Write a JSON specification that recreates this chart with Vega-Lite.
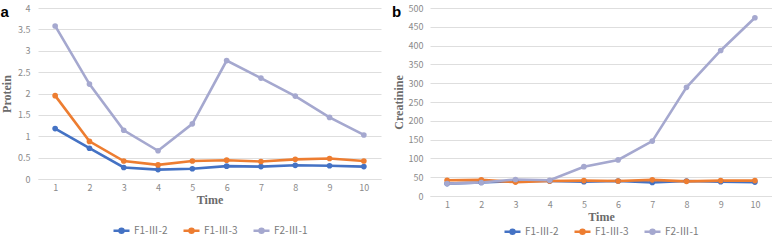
{
  "$schema": "https://vega.github.io/schema/vega-lite/v6.json",
  "padding": {"left": 0, "top": 4, "right": 0, "bottom": 0},
  "background": "white",
  "config": {
    "view": {"stroke": null},
    "axis": {"labelFont": "Noto Sans CJK SC", "labelFontSize": 9, "labelColor": "#8a8a8a", "titleFont": "Liberation Serif", "titleFontSize": 12, "titleFontWeight": "bold", "titleColor": "#6b6b6b", "gridColor": "#dedede", "ticks": false, "domain": false},
    "legend": {"labelFont": "Noto Sans CJK SC", "labelFontSize": 10, "labelColor": "#7a7a7a", "orient": "bottom", "direction": "horizontal", "title": null, "symbolType": "M-1,0H1M-0.25,0A0.25,0.25,0,1,0,0.25,0A0.25,0.25,0,1,0,-0.25,0", "symbolSize": 256, "symbolStrokeWidth": 2.5, "columnPadding": 10, "labelOffset": 3, "layout": {"bottom": {"anchor": "middle"}}},
    "title": {"font": "Liberation Sans", "fontSize": 15, "fontWeight": "bold", "color": "#000", "anchor": "start", "frame": "bounds", "offset": -16}
  },
  "datasets": {
    "protein": [
      {"t": 1, "s": "F1-Ⅲ-2", "v": 1.18}, {"t": 2, "s": "F1-Ⅲ-2", "v": 0.72}, {"t": 3, "s": "F1-Ⅲ-2", "v": 0.27}, {"t": 4, "s": "F1-Ⅲ-2", "v": 0.22}, {"t": 5, "s": "F1-Ⅲ-2", "v": 0.24}, {"t": 6, "s": "F1-Ⅲ-2", "v": 0.30}, {"t": 7, "s": "F1-Ⅲ-2", "v": 0.29}, {"t": 8, "s": "F1-Ⅲ-2", "v": 0.32}, {"t": 9, "s": "F1-Ⅲ-2", "v": 0.31}, {"t": 10, "s": "F1-Ⅲ-2", "v": 0.29},
      {"t": 1, "s": "F1-Ⅲ-3", "v": 1.95}, {"t": 2, "s": "F1-Ⅲ-3", "v": 0.88}, {"t": 3, "s": "F1-Ⅲ-3", "v": 0.42}, {"t": 4, "s": "F1-Ⅲ-3", "v": 0.33}, {"t": 5, "s": "F1-Ⅲ-3", "v": 0.42}, {"t": 6, "s": "F1-Ⅲ-3", "v": 0.44}, {"t": 7, "s": "F1-Ⅲ-3", "v": 0.41}, {"t": 8, "s": "F1-Ⅲ-3", "v": 0.46}, {"t": 9, "s": "F1-Ⅲ-3", "v": 0.48}, {"t": 10, "s": "F1-Ⅲ-3", "v": 0.42},
      {"t": 1, "s": "F2-Ⅲ-1", "v": 3.58}, {"t": 2, "s": "F2-Ⅲ-1", "v": 2.22}, {"t": 3, "s": "F2-Ⅲ-1", "v": 1.14}, {"t": 4, "s": "F2-Ⅲ-1", "v": 0.66}, {"t": 5, "s": "F2-Ⅲ-1", "v": 1.29}, {"t": 6, "s": "F2-Ⅲ-1", "v": 2.77}, {"t": 7, "s": "F2-Ⅲ-1", "v": 2.36}, {"t": 8, "s": "F2-Ⅲ-1", "v": 1.94}, {"t": 9, "s": "F2-Ⅲ-1", "v": 1.44}, {"t": 10, "s": "F2-Ⅲ-1", "v": 1.03}
    ],
    "creatinine": [
      {"t": 1, "s": "F1-Ⅲ-2", "v": 33}, {"t": 2, "s": "F1-Ⅲ-2", "v": 36}, {"t": 3, "s": "F1-Ⅲ-2", "v": 40}, {"t": 4, "s": "F1-Ⅲ-2", "v": 40}, {"t": 5, "s": "F1-Ⅲ-2", "v": 38}, {"t": 6, "s": "F1-Ⅲ-2", "v": 40}, {"t": 7, "s": "F1-Ⅲ-2", "v": 36}, {"t": 8, "s": "F1-Ⅲ-2", "v": 40}, {"t": 9, "s": "F1-Ⅲ-2", "v": 38}, {"t": 10, "s": "F1-Ⅲ-2", "v": 37},
      {"t": 1, "s": "F1-Ⅲ-3", "v": 42}, {"t": 2, "s": "F1-Ⅲ-3", "v": 43}, {"t": 3, "s": "F1-Ⅲ-3", "v": 37}, {"t": 4, "s": "F1-Ⅲ-3", "v": 40}, {"t": 5, "s": "F1-Ⅲ-3", "v": 41}, {"t": 6, "s": "F1-Ⅲ-3", "v": 40}, {"t": 7, "s": "F1-Ⅲ-3", "v": 43}, {"t": 8, "s": "F1-Ⅲ-3", "v": 39}, {"t": 9, "s": "F1-Ⅲ-3", "v": 41}, {"t": 10, "s": "F1-Ⅲ-3", "v": 41},
      {"t": 1, "s": "F2-Ⅲ-1", "v": 33}, {"t": 2, "s": "F2-Ⅲ-1", "v": 36}, {"t": 3, "s": "F2-Ⅲ-1", "v": 44}, {"t": 4, "s": "F2-Ⅲ-1", "v": 42}, {"t": 5, "s": "F2-Ⅲ-1", "v": 78}, {"t": 6, "s": "F2-Ⅲ-1", "v": 96}, {"t": 7, "s": "F2-Ⅲ-1", "v": 146}, {"t": 8, "s": "F2-Ⅲ-1", "v": 289}, {"t": 9, "s": "F2-Ⅲ-1", "v": 387}, {"t": 10, "s": "F2-Ⅲ-1", "v": 474}
    ]
  },
  "hconcat": [
    {
      "title": {"text": "a"},
      "data": {"name": "protein"},
      "width": 343,
      "height": 171,
      "mark": {"type": "line", "strokeWidth": 2.6, "point": {"filled": true, "size": 32}},
      "encoding": {
        "x": {"field": "t", "type": "ordinal", "scale": {"type": "point", "padding": 0.5}, "axis": {"labelAngle": 0, "title": "Time", "grid": false, "domain": true, "domainColor": "#dedede", "labelPadding": 4, "titlePadding": 2}},
        "y": {"field": "v", "type": "quantitative", "scale": {"domain": [0, 4]}, "axis": {"values": [0, 0.5, 1, 1.5, 2, 2.5, 3, 3.5, 4], "format": "~g", "title": "Protein", "labelPadding": 8, "titlePadding": 4}},
        "color": {"field": "s", "type": "nominal", "scale": {"range": ["#4472C4", "#ED7D31", "#A5A8CF"]}, "legend": {"offset": 16}}
      }
    },
    {
      "title": {"text": "b"},
      "data": {"name": "creatinine"},
      "width": 342,
      "height": 188,
      "mark": {"type": "line", "strokeWidth": 2.6, "point": {"filled": true, "size": 32}},
      "encoding": {
        "x": {"field": "t", "type": "ordinal", "scale": {"type": "point", "padding": 0.5}, "axis": {"labelAngle": 0, "title": "Time", "grid": false, "domain": true, "domainColor": "#dedede", "labelPadding": 4, "titlePadding": 2}},
        "y": {"field": "v", "type": "quantitative", "scale": {"domain": [0, 500]}, "axis": {"values": [0, 50, 100, 150, 200, 250, 300, 350, 400, 450, 500], "title": "Creatinine", "labelPadding": 7, "titlePadding": 3}},
        "color": {"field": "s", "type": "nominal", "scale": {"range": ["#4472C4", "#ED7D31", "#A5A8CF"]}, "legend": {"offset": 0}}
      }
    }
  ],
  "spacing": 11,
  "resolve": {"legend": {"color": "independent"}}
}
